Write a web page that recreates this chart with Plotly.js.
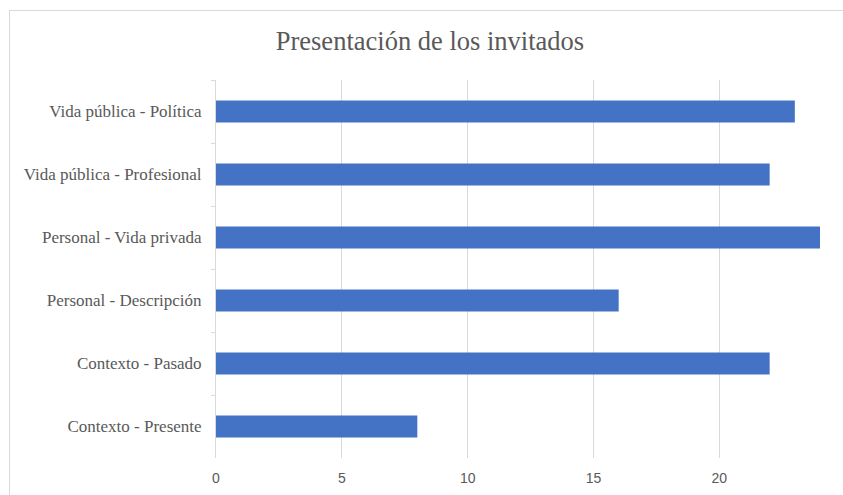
<!DOCTYPE html>
<html>
<head>
<meta charset="utf-8">
<script src="https://cdn.plot.ly/plotly-3.0.1.min.js"></script>
<style>
html,body{margin:0;padding:0;background:#fff;overflow:hidden;}
#chart{width:843px;height:495px;}
#frame{position:absolute;left:9px;top:10px;width:900px;height:600px;border:1px solid #d9d9d9;pointer-events:none;}
</style>
</head>
<body>
<div id="chart"></div>
<div id="frame"></div>
<script>
const categories = ["Vida pública - Política","Vida pública - Profesional","Personal - Vida privada","Personal - Descripción","Contexto - Pasado","Contexto - Presente"];
const values = [23, 22, 24, 16, 22, 8];
const xTicks = [0, 5, 10, 15, 20];

const trace = {
  type: 'bar',
  orientation: 'h',
  x: values,
  y: categories,
  marker: {color: '#4472C4'},
  hoverinfo: 'x+y'
};

const layout = {
  width: 843, height: 495,
  margin: {l: 216, r: 23, t: 80, b: 37},
  paper_bgcolor: '#ffffff',
  plot_bgcolor: '#ffffff',
  bargap: 0.65,
  showlegend: false,
  title: {
    text: 'Presentación de los invitados',
    font: {family: 'Liberation Serif, serif', size: 26.5, color: '#595959'},
    x: 0.51, xanchor: 'center', y: 0.917, yanchor: 'middle'
  },
  xaxis: {
    range: [0, 24],
    tickvals: xTicks,
    ticktext: xTicks.map(String),
    showgrid: true, gridcolor: '#d9d9d9', gridwidth: 1,
    zeroline: false, showline: false,
    ticks: '',
    tickfont: {family: 'Liberation Sans, sans-serif', size: 14, color: '#595959'},
    ticklabelstandoff: 10,
    fixedrange: true
  },
  yaxis: {
    autorange: 'reversed',
    showgrid: false, zeroline: false,
    showline: true, linecolor: '#d9d9d9', linewidth: 1,
    ticks: 'outside', tickson: 'boundaries', ticklen: 4, tickcolor: '#d9d9d9',
    tickfont: {family: 'Liberation Serif, serif', size: 17, color: '#595959'},
    ticklabelstandoff: 10,
    fixedrange: true
  }
};

Plotly.newPlot('chart', [trace], layout, {displayModeBar: false, staticPlot: true});
</script>
</body>
</html>
